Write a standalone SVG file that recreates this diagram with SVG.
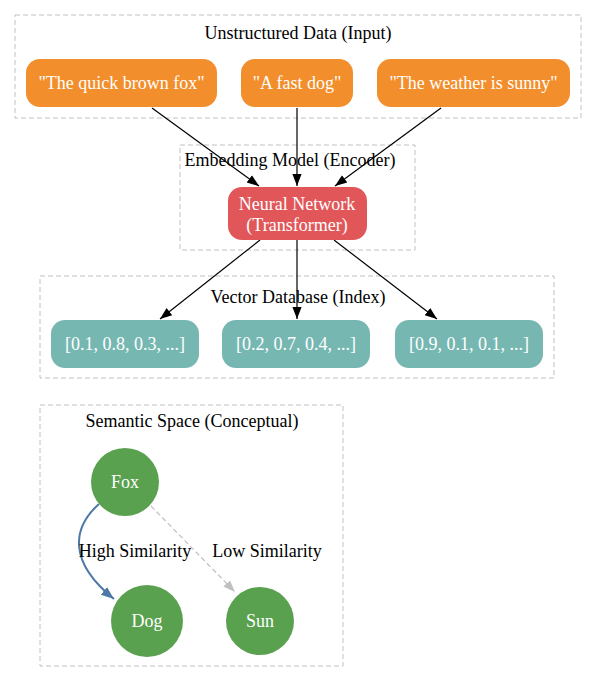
<svg xmlns="http://www.w3.org/2000/svg" width="596" height="683" viewBox="0 0 596 683" font-family="Liberation Serif, Times New Roman, serif" font-size="18">
<style>
text{text-anchor:middle}
.cl{fill:none;stroke:#c0c0c0;stroke-dasharray:5,3}
.lab{fill:#000}
.nt{fill:#fff}
.or{fill:#f28e2b}
.rd{fill:#e15759}
.tl{fill:#76b7b2}
.gr{fill:#59a14f}
.e{stroke:#000;fill:none;stroke-width:1.2}
</style>
<defs>
<marker id="ah" viewBox="0 0 10 10" refX="10" refY="5" markerWidth="12" markerHeight="12" markerUnits="userSpaceOnUse" orient="auto"><path d="M0,1.2 L10,5 L0,8.8 z" fill="#000"/></marker>
<marker id="ab" viewBox="0 0 10 10" refX="10" refY="5" markerWidth="13" markerHeight="13" markerUnits="userSpaceOnUse" orient="auto"><path d="M0,1.2 L10,5 L0,8.8 z" fill="#4e79a7"/></marker>
<marker id="ag" viewBox="0 0 10 10" refX="10" refY="5" markerWidth="12" markerHeight="12" markerUnits="userSpaceOnUse" orient="auto"><path d="M0,1.2 L10,5 L0,8.8 z" fill="#c0c0c0"/></marker>
</defs>
<g id="clusters">
<rect class="cl" x="15" y="15" width="566" height="103"/>
<text class="lab" x="298" y="39">Unstructured Data (Input)</text>
<rect class="cl" x="180" y="145" width="235" height="105"/>
<text class="lab" x="290" y="166">Embedding Model (Encoder)</text>
<rect class="cl" x="40" y="276" width="514" height="102"/>
<text class="lab" x="298" y="303">Vector Database (Index)</text>
<rect class="cl" x="40" y="405" width="303" height="261"/>
<text class="lab" x="192" y="427">Semantic Space (Conceptual)</text>
</g>
<g id="connectors">
<line class="e" x1="152" y1="108" x2="259" y2="186" marker-end="url(#ah)"/>
<line class="e" x1="297" y1="108" x2="297" y2="186" marker-end="url(#ah)"/>
<line class="e" x1="441" y1="108" x2="335" y2="186" marker-end="url(#ah)"/>
<line class="e" x1="260" y1="240" x2="160" y2="319" marker-end="url(#ah)"/>
<line class="e" x1="297" y1="240" x2="297" y2="319" marker-end="url(#ah)"/>
<line class="e" x1="334" y1="240" x2="437" y2="319" marker-end="url(#ah)"/>
<path d="M99,504 C72,528 68,562 114,599" fill="none" stroke="#4e79a7" stroke-width="2" marker-end="url(#ab)"/>
<text class="lab" x="135" y="557">High Similarity</text>
<line x1="151" y1="506" x2="235" y2="592" stroke="#c0c0c0" stroke-width="1.2" stroke-dasharray="5,3" marker-end="url(#ag)"/>
<text class="lab" x="267" y="557">Low Similarity</text>
</g>
<g id="n1"><rect class="or" x="26" y="59" width="191" height="48" rx="14"/><text class="nt" x="121.5" y="89">"The quick brown fox"</text></g>
<g id="n2"><rect class="or" x="241" y="59" width="112" height="48" rx="14"/><text class="nt" x="297" y="89">"A fast dog"</text></g>
<g id="n3"><rect class="or" x="377" y="59" width="193" height="48" rx="14"/><text class="nt" x="473.5" y="89">"The weather is sunny"</text></g>
<g id="nn"><rect class="rd" x="228" y="187" width="139" height="53" rx="14"/><text class="nt" x="297" y="210">Neural Network</text><text class="nt" x="297" y="231">(Transformer)</text></g>
<g id="v1"><rect class="tl" x="51" y="320" width="148" height="48" rx="14"/><text class="nt" x="125" y="350">[0.1, 0.8, 0.3, ...]</text></g>
<g id="v2"><rect class="tl" x="222" y="320" width="148" height="48" rx="14"/><text class="nt" x="296" y="350">[0.2, 0.7, 0.4, ...]</text></g>
<g id="v3"><rect class="tl" x="395" y="320" width="148" height="48" rx="14"/><text class="nt" x="469" y="350">[0.9, 0.1, 0.1, ...]</text></g>
<g id="fox"><circle class="gr" cx="125" cy="482" r="34"/><text class="nt" x="125" y="488">Fox</text></g>
<g id="dog"><circle class="gr" cx="147" cy="621" r="36"/><text class="nt" x="147" y="627">Dog</text></g>
<g id="sun"><circle class="gr" cx="260" cy="621" r="34"/><text class="nt" x="260" y="627">Sun</text></g>
</svg>
